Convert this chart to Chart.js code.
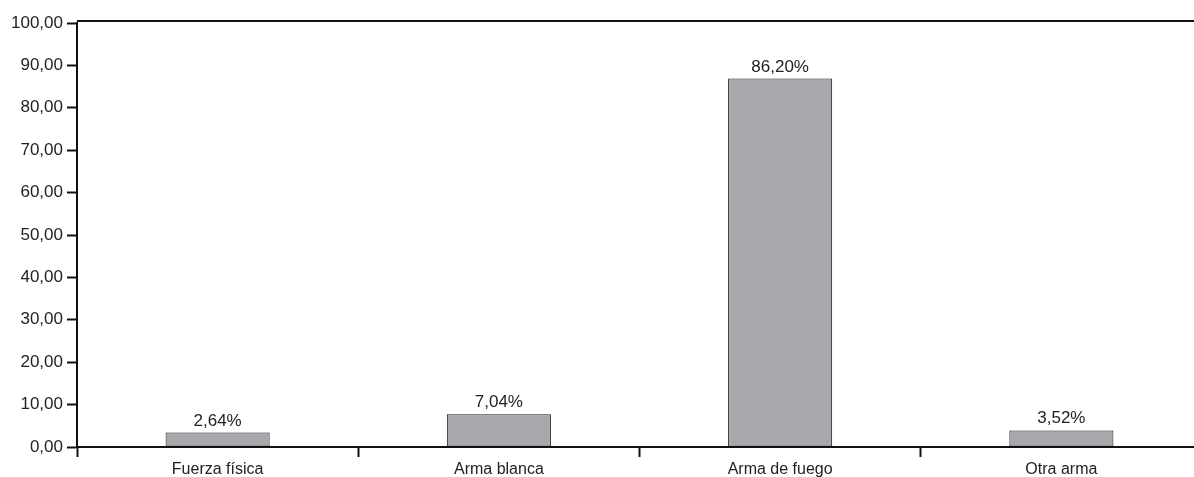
<!DOCTYPE html>
<html>
<head>
<meta charset="utf-8">
<script src="https://cdn.jsdelivr.net/npm/chart.js@4"></script>
<style>
  html, body { margin: 0; padding: 0; background: #fff; overflow: hidden; }
  #wrap { width: 1202px; height: 477px; }
</style>
</head>
<body>
<div id="wrap"><canvas id="myChart"></canvas></div>
<script>
// categorías y valores
const categorias = ['Fuerza física', 'Arma blanca', 'Arma de fuego', 'Otra arma'];
const alturas = [3.4, 7.7, 86.9, 3.9];          // altura dibujada de cada barra
const etiquetas = [2.64, 7.04, 86.20, 3.52];    // porcentaje escrito encima
const yMin = 0, yMax = 100, yPaso = 10;

const numFont = 'Liberation Sans, Arial, sans-serif';
const catFont = 'Liberation Sans Narrow, Liberation Sans, Arial, sans-serif';

function coma(v, d) {
  return v.toFixed(d).replace('.', ',');
}

// linea superior del marco + etiquetas de valor
const extras = {
  id: 'extras',
  afterDatasetsDraw(chart) {
    const c = chart.ctx;
    const a = chart.chartArea;
    c.save();
    c.strokeStyle = '#111';
    c.lineWidth = 2;
    c.beginPath();
    c.moveTo(a.left, a.top - 2);
    c.lineTo(a.right, a.top - 2);
    c.stroke();

    c.fillStyle = '#222';
    c.font = '17px ' + numFont;
    c.textAlign = 'center';
    c.textBaseline = 'alphabetic';
    chart.getDatasetMeta(0).data.forEach((bar, i) => {
      c.fillText(coma(etiquetas[i], 2) + '%', bar.x, bar.y - 7);
    });
    c.restore();
  }
};

const ctx = document.getElementById('myChart');
const chart = new Chart(ctx, {
  type: 'bar',
  data: {
    labels: categorias,
    datasets: [{
      data: alturas,
      backgroundColor: '#a7a8ab',
      borderColor: '#1a1a1a',
      borderWidth: 1,
      borderSkipped: false,
      categoryPercentage: 1,
      barPercentage: 0.37
    }]
  },
  options: {
    responsive: true,
    maintainAspectRatio: false,
    animation: false,
    layout: { padding: { top: 23, right: 0, bottom: 0, left: 0 } },
    plugins: {
      legend: { display: false },
      tooltip: { enabled: false }
    },
    scales: {
      x: {
        grid: {
          offset: true,
          drawOnChartArea: false,
          drawTicks: true,
          tickLength: 10,
          tickWidth: 2,
          tickColor: '#111'
        },
        border: { display: true, color: '#111', width: 2 },
        ticks: {
          color: '#222',
          padding: 3,
          maxRotation: 0,
          font: { family: catFont, size: 16 }
        },
        afterFit(scale) { scale.height = 30; }
      },
      y: {
        min: yMin,
        max: yMax,
        grid: {
          drawOnChartArea: false,
          drawTicks: true,
          tickLength: 10,
          tickWidth: 2,
          tickColor: '#111'
        },
        border: { display: true, color: '#111', width: 2 },
        ticks: {
          stepSize: yPaso,
          color: '#222',
          padding: 4,
          font: { family: numFont, size: 17 },
          callback: (v) => coma(v, 2)
        },
        afterFit(scale) { scale.width = 77; }
      }
    }
  },
  plugins: [extras]
});
</script>
</body>
</html>
